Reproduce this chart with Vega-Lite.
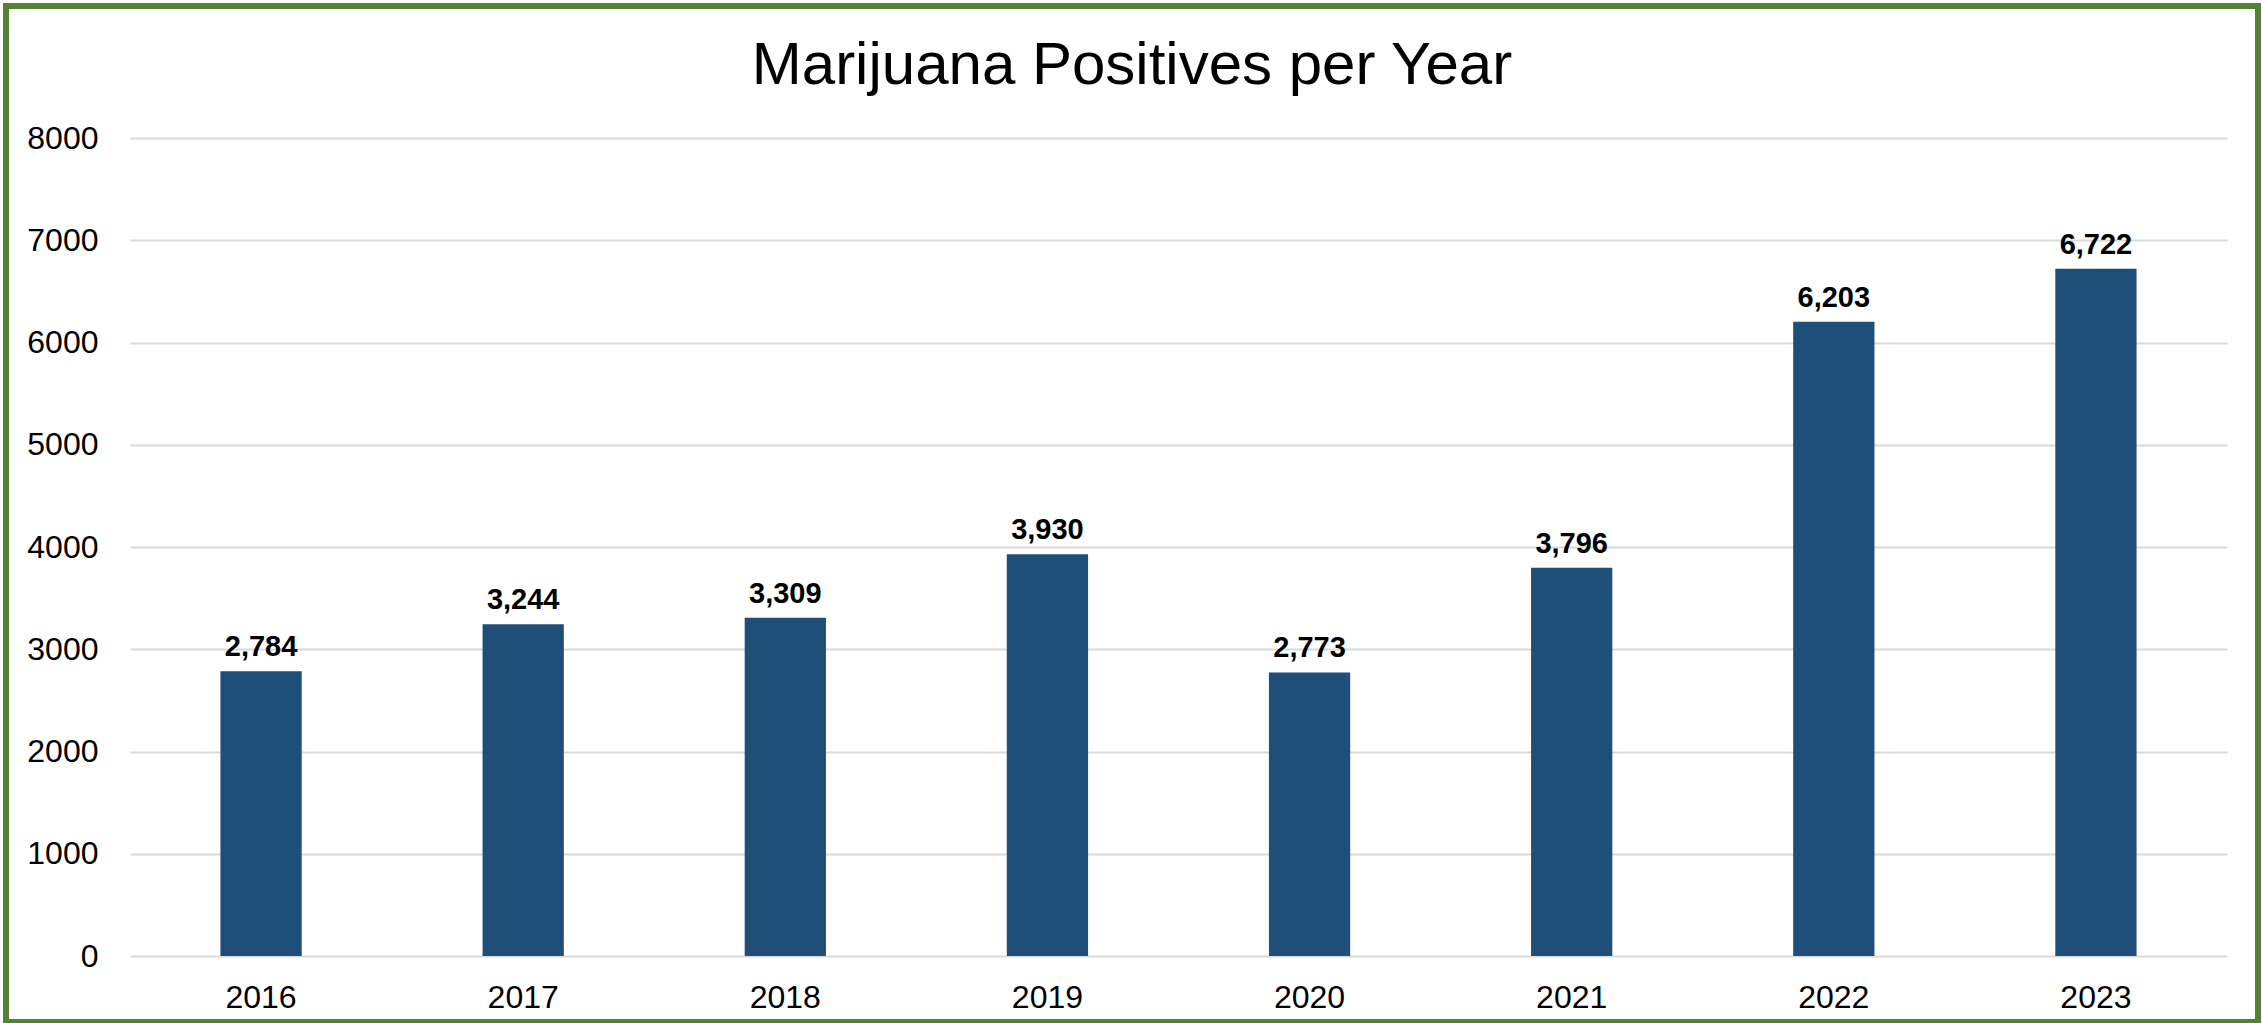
{
  "$schema": "https://vega.github.io/schema/vega-lite/v6.json",
  "width": 2252,
  "height": 1016,
  "autosize": {"type": "none"},
  "padding": {"left": 6, "top": 6, "right": 4, "bottom": 1},
  "background": "white",
  "title": {
    "text": "Marijuana Positives per Year",
    "anchor": "middle",
    "frame": "group",
    "font": "Liberation Sans",
    "fontSize": 60,
    "fontWeight": "normal",
    "color": "black",
    "baseline": "alphabetic",
    "offset": -61,
    "dy": 77
  },
  "data": {
    "values": [
      {"year": "2016", "positives": 2784},
      {"year": "2017", "positives": 3244},
      {"year": "2018", "positives": 3309},
      {"year": "2019", "positives": 3930},
      {"year": "2020", "positives": 2773},
      {"year": "2021", "positives": 3796},
      {"year": "2022", "positives": 6203},
      {"year": "2023", "positives": 6722}
    ]
  },
  "encoding": {
    "x": {
      "field": "year",
      "type": "nominal",
      "sort": null,
      "scale": {"range": [124, 2221], "paddingInner": 0.69, "paddingOuter": 0.345},
      "axis": {
        "title": null,
        "domain": false,
        "ticks": false,
        "tickSize": 0,
        "labelPadding": 0,
        "offset": -40,
        "grid": false,
        "labelAngle": 0,
        "labelFont": "Liberation Sans",
        "labelFontSize": 32,
        "labelColor": "black",
        "labelBaseline": "top"
      }
    },
    "y": {
      "field": "positives",
      "type": "quantitative",
      "scale": {"domain": [0, 8000], "range": [950, 132], "nice": false},
      "axis": {
        "title": null,
        "domain": false,
        "ticks": false,
        "tickSize": 0,
        "labelPadding": 0,
        "offset": -92,
        "values": [0, 1000, 2000, 3000, 4000, 5000, 6000, 7000, 8000],
        "format": "d",
        "grid": true,
        "gridColor": "#D9D9D9",
        "gridWidth": 2,
        "labelFont": "Liberation Sans",
        "labelFontSize": 32,
        "labelColor": "black",
        "labelAlign": "right",
        "labelBaseline": "middle"
      }
    }
  },
  "layer": [
    {"mark": {"type": "bar", "color": "#1F4E79"}},
    {
      "mark": {
        "type": "text",
        "dy": -15,
        "baseline": "alphabetic",
        "align": "center",
        "font": "Liberation Sans",
        "fontSize": 29,
        "fontWeight": "bold",
        "color": "black"
      },
      "encoding": {"text": {"field": "positives", "type": "quantitative", "format": ","}}
    }
  ],
  "config": {"view": {"stroke": "#548235", "strokeWidth": 6}}
}
